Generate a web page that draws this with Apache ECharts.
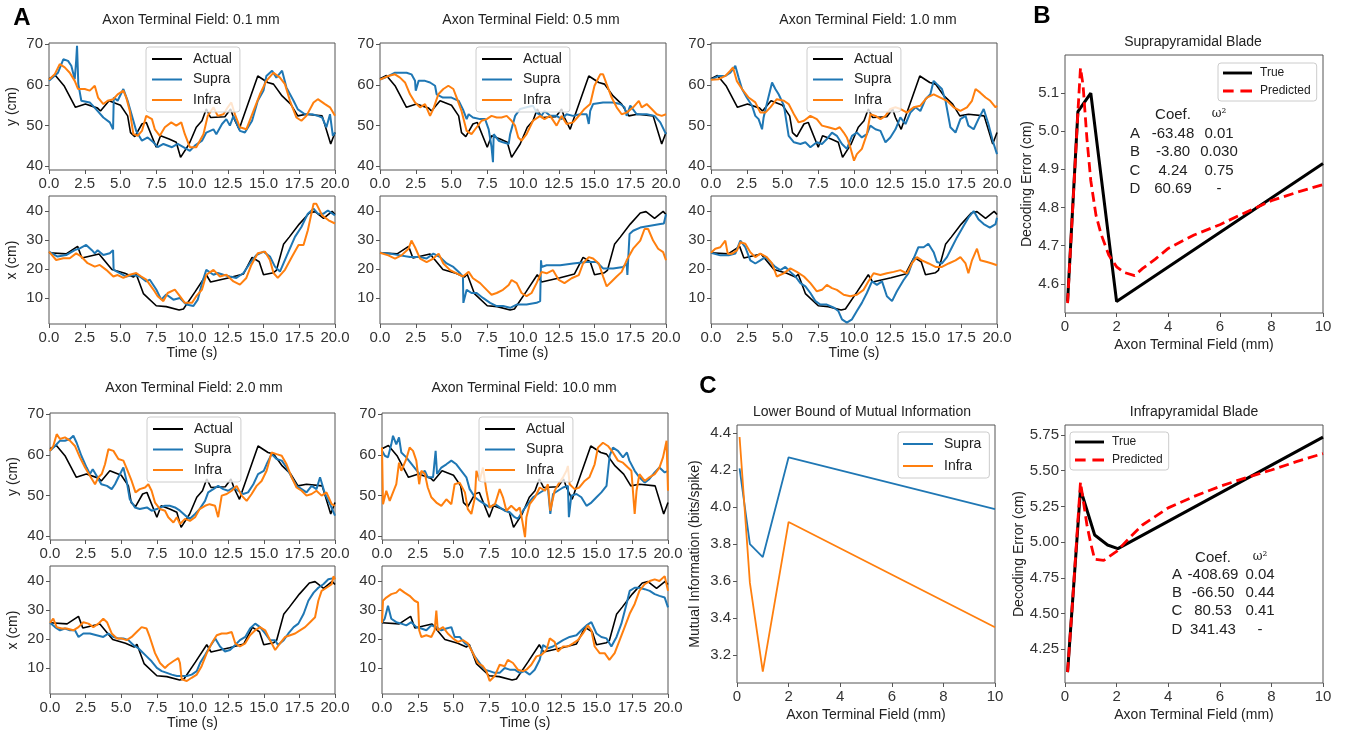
<!DOCTYPE html>
<html><head><meta charset="utf-8">
<script src="https://cdn.jsdelivr.net/npm/echarts@6/dist/echarts.min.js"></script>
<style>html,body{margin:0;padding:0;background:#fff}#c{width:1352px;height:737px}</style>
</head><body><div id="c"></div>
<script>
// ---------------- DATA ----------------
const panelTitles = ['Axon Terminal Field: 0.1 mm','Axon Terminal Field: 0.5 mm','Axon Terminal Field: 1.0 mm','Axon Terminal Field: 2.0 mm','Axon Terminal Field: 10.0 mm'];
const yTicks = [40, 50, 60, 70];
const xTicks = [10, 20, 30, 40];

// actual trajectory [time (s), cm]
const actualY = [[0,61.5],[0.45,62.3],[1.05,59.8],[1.85,54.5],[2.55,55.3],[3.4,54.3],[3.6,53.6],[4.2,56.1],[5.0,55.0],[5.5,52.4],[5.7,48.3],[6.0,47.3],[6.5,50.4],[6.8,50.8],[7.5,44.7],[7.8,47.5],[8.4,46.7],[8.9,45.9],[9.2,42.2],[9.8,45.5],[10.3,49.6],[10.7,51.2],[11.0,54.1],[11.3,52.0],[12.3,52.2],[12.7,54.1],[12.9,52.0],[13.3,49.1],[13.5,51.2],[14.6,62.2],[15.3,60.6],[15.7,60.2],[16.3,57.3],[16.9,55.3],[17.4,52.4],[18.0,52.8],[19.1,52.4],[19.7,45.5],[20,48.3]];
const actualX = [[0,25.6],[1.2,25.2],[2.0,27.8],[2.3,23.8],[3.5,25.2],[4.4,19.8],[5.3,18.5],[5.9,17.2],[6.1,18.2],[6.6,11.5],[7.5,7.3],[8.2,7.0],[9.1,5.8],[9.4,6.2],[10.2,12.0],[11.0,18.0],[11.3,15.5],[12.6,17.0],[13.6,18.3],[14.2,24.0],[14.7,22.5],[15.0,18.0],[15.7,18.7],[15.9,19.5],[16.4,28.5],[16.8,31.0],[17.5,35.5],[18.2,39.3],[18.6,39.8],[19.2,37.5],[19.8,39.9],[20,38.8]];

// 0.1 mm
const supraY01 = [[0,61.0],[0.63,63],[1.0,66.3],[1.33,65.9],[1.56,64.7],[1.8,61.4],[1.9,66],[1.96,69.6],[2.05,60.2],[2.26,56.1],[2.85,55.7],[3.3,54],[3.8,52],[4.25,50.8],[4.48,49.1],[4.53,56.9],[4.8,56.1],[5.2,59],[5.5,56.1],[5.9,51.2],[6.1,48.7],[6.5,46.3],[6.9,47.1],[7.3,45.9],[7.6,44.7],[8.0,45.5],[8.6,44.7],[9.0,45.5],[9.4,44.7],[9.85,43.8],[10.2,45.1],[10.7,46.3],[11.0,48.3],[11.5,49.1],[11.7,47.9],[12.1,50.4],[12.4,51.6],[12.65,50],[12.9,52.4],[13.35,48.7],[13.7,48.3],[14.2,51.2],[14.6,56.1],[15.0,58.6],[15.2,62.2],[15.6,63.5],[15.9,61.8],[16.3,63.5],[16.6,59.4],[17.1,56.1],[17.4,54],[17.9,52.8],[18.4,52.8],[18.8,52.4],[19.1,52],[19.4,49.6],[19.65,52.8],[19.85,47.5],[20,48.3]];
const infraY01 = [[0,61.3],[0.4,62.6],[0.75,65.1],[1.1,64.3],[1.45,63],[1.8,61],[2.03,59],[2.5,59],[2.85,58.6],[3.2,59.8],[3.43,56.9],[3.8,55.3],[4.1,56.1],[4.5,56.5],[4.8,57.7],[5.2,58.6],[5.4,56.9],[5.65,53.6],[5.9,47.9],[6.2,47.5],[6.5,48.7],[6.8,52.4],[7.2,51.6],[7.4,49.1],[7.75,47.5],[8.1,49.6],[8.55,50.8],[8.9,50],[9.25,50.8],[9.5,47.9],[9.85,44.7],[10.3,44.7],[10.8,47.9],[11.1,52.4],[11.5,54.5],[11.8,52.4],[12.2,52.8],[12.5,54.5],[12.75,55.7],[13.0,52.8],[13.35,49.6],[13.8,49.1],[14.3,53.6],[14.75,57.7],[15.2,61],[15.7,63],[16.15,61.8],[16.5,60.2],[16.85,56.1],[17.3,52],[17.65,51.2],[18.0,52.4],[18.5,55.7],[18.8,56.5],[19.3,55.3],[19.65,54.5],[20,52.4]];
const supraX01 = [[0,26],[0.6,24.3],[1.2,24.8],[1.8,26.5],[2.15,27.1],[2.6,28.3],[3.0,26.5],[3.2,25.4],[3.4,26.5],[3.8,24.8],[4.25,25.4],[4.48,26.5],[4.52,19.7],[4.95,18.6],[5.4,17.4],[5.9,17.9],[6.35,17.4],[6.8,15.7],[7.05,16.3],[7.5,12.9],[7.85,9.4],[8.2,11.2],[8.7,9.4],[9.15,10],[9.6,7.7],[10.1,7.2],[10.4,9.4],[10.7,15.1],[11.0,19.7],[11.5,18],[11.8,18.6],[12.2,18],[12.65,17.4],[13.1,16.9],[13.6,18.6],[14.05,22],[14.5,24.8],[15.0,26],[15.45,24.3],[15.8,20.8],[16.15,19.1],[16.6,24.3],[17.2,31.1],[17.65,34.5],[18.1,39.1],[18.5,40.8],[18.8,39.1],[19.2,39.1],[19.5,40.2],[20,38.5]];
const infraX01 = [[0,26],[0.5,23.1],[1.0,23.7],[1.45,23.7],[1.9,25.4],[2.25,24.3],[2.7,22],[3.2,20.8],[3.55,21.4],[4.0,19.7],[4.5,17.4],[4.8,17.9],[5.2,16.9],[5.65,18],[6.1,18.6],[6.45,17.4],[6.8,16.3],[7.3,12.9],[7.6,10.6],[8.0,8.9],[8.3,11.7],[8.8,12.9],[9.15,10.6],[9.5,8.3],[10.0,8.3],[10.3,10.6],[10.7,12.9],[11.0,18],[11.5,19.7],[11.95,17.4],[12.4,18],[12.9,15.7],[13.35,14.6],[13.8,16.9],[14.15,21.4],[14.6,25.4],[15.1,26],[15.45,23.1],[15.7,18.6],[16.0,16.9],[16.5,19.7],[17.0,24.3],[17.45,28.3],[17.8,28.3],[18.1,33.4],[18.5,42.5],[18.7,42.5],[19.1,38.5],[19.55,36.8],[20,35.7]];

// 0.5 mm
const supraY05 = [[0,61.3],[0.47,62],[1.05,63],[1.86,63],[2.2,62.6],[2.45,61],[2.5,58.6],[2.7,61],[3.15,61],[3.5,60.6],[3.85,59.8],[3.96,57.7],[4.4,56.9],[5.0,56.9],[5.5,56.1],[5.8,54],[6.06,51.6],[6.2,52.8],[6.5,52],[7.0,51.6],[7.35,51.6],[7.6,49.1],[7.8,44.7],[7.9,41],[7.95,47.9],[8.3,46.3],[8.6,45.9],[9.0,45.5],[9.1,47.9],[9.45,52.4],[9.8,54.1],[10.25,54.5],[10.7,54.9],[10.95,53.2],[11.3,52.4],[11.5,53.6],[11.9,52.4],[12.35,52.4],[12.7,51.6],[13.05,52.8],[13.5,52.4],[14.0,52.8],[14.45,52.8],[14.6,50.4],[14.7,53.6],[14.9,55.3],[15.6,55.7],[16.3,55.7],[16.8,55.3],[17.1,54.5],[17.25,52.4],[17.5,54.9],[17.95,52.8],[18.65,52.8],[19.2,52.4],[19.6,50.8],[20,47.9]];
const infraY05 = [[0,61.3],[0.58,62.2],[1.05,62.6],[1.4,61.8],[1.75,60.6],[2.1,57.7],[2.45,55.7],[2.8,54.5],[3.15,55.3],[3.5,52.4],[3.73,54.1],[4.08,57.7],[4.43,59],[4.78,59.8],[5.13,59],[5.36,56.9],[5.7,53.6],[6.06,48.7],[6.4,47.9],[6.76,49.6],[7.1,51.2],[7.46,51.6],[7.8,52.4],[8.16,52],[8.5,52],[8.86,52.4],[9.2,51.2],[9.44,50],[9.67,47.1],[9.9,46.3],[10.25,47.9],[10.7,51.2],[11.2,52.4],[11.5,51.6],[11.9,52.4],[12.35,50],[12.7,52.4],[13.05,50.4],[13.5,50.8],[14.0,52.8],[14.3,54.1],[14.7,55.3],[15.0,59.8],[15.4,62.6],[15.6,62.6],[15.85,60.2],[16.2,56.9],[16.55,54.5],[16.9,52.8],[17.25,53.2],[17.7,54.5],[18.1,56.1],[18.3,54.5],[18.65,55.3],[19.0,54.1],[19.35,52.8],[19.7,52.4],[20,52.8]];
const supraX05 = [[0,25.6],[0.7,25.3],[1.4,24.7],[2.1,24.1],[2.8,24.1],[3.26,23.6],[3.73,25.3],[4.2,24.1],[4.66,21.9],[5.13,20.7],[5.6,18.5],[5.8,17.4],[5.83,8.3],[6.06,12.8],[6.4,11.7],[6.76,11.7],[7.2,10],[7.7,8.3],[8.16,7.2],[8.6,7.2],[9.1,6.6],[9.56,7.7],[10.25,7.7],[10.95,8.3],[11.2,8.9],[11.26,23],[11.3,20.7],[11.65,21.3],[12.6,21.3],[13.5,21.9],[14.45,22.4],[15.15,22.4],[15.6,20.2],[16.3,20.2],[17.0,20.7],[17.25,21.9],[17.3,17.9],[17.45,32.1],[17.7,33.2],[18.2,34.3],[18.9,34.9],[19.6,35.5],[19.85,35.7],[20,38.9]];
const infraX05 = [[0,25.6],[0.58,24.7],[1.05,23.6],[1.5,24.7],[2.0,27],[2.2,29.8],[2.45,27.5],[2.8,23.6],[3.26,22.4],[3.73,23.6],[4.1,25.3],[4.43,21.9],[4.9,19.6],[5.36,18.5],[5.8,17.4],[6.2,19],[6.5,16.8],[7.0,15.1],[7.46,12.8],[7.8,11.1],[8.16,11.7],[8.6,12.8],[9.0,14.5],[9.2,16.2],[9.56,15.1],[9.9,11.7],[10.25,10.6],[10.6,11.7],[10.95,15.1],[11.3,19],[11.65,18.5],[12.1,19.6],[12.5,16.2],[12.9,15.1],[13.4,16.8],[13.9,17.9],[14.2,21.9],[14.6,24.1],[14.9,23.6],[15.3,21.9],[15.6,17.4],[15.85,14],[16.2,15.7],[16.55,17.4],[16.9,19],[17.25,23],[17.7,27],[18.2,29.8],[18.5,33.8],[18.75,33.8],[19.1,29.8],[19.45,27],[19.8,25.8],[20,23]];

// 1.0 mm
const supraY10 = [[0,61.3],[0.54,62.2],[1.0,62.2],[1.35,63],[1.7,64.7],[1.93,61.8],[2.17,59],[2.5,56.9],[2.87,54.9],[3.1,52.4],[3.33,51.6],[3.57,49.1],[3.68,52],[3.9,55.3],[4.27,60.6],[4.5,59],[4.73,57.7],[5.1,54.9],[5.43,47.5],[5.8,45.9],[6.25,45.5],[6.6,45.9],[6.95,44.7],[7.4,45.9],[7.76,45.5],[8.1,46.7],[8.46,48.3],[8.8,47.5],[9.16,45.5],[9.5,44.3],[9.86,47.5],[10.2,48.3],[10.55,47.1],[10.9,47.9],[11.14,50],[11.5,49.1],[11.85,48.7],[12.2,45.9],[12.54,47.1],[12.9,49.1],[13.24,52],[13.6,50.4],[13.94,53.2],[14.3,54.5],[14.64,53.6],[15.0,56.5],[15.34,57.7],[15.57,61],[15.8,60.2],[16.15,59],[16.4,56.1],[16.74,49.6],[17.1,48.3],[17.44,51.6],[17.8,52.4],[18.0,50],[18.37,49.1],[18.7,51.6],[19.07,54.1],[19.4,50.4],[19.7,46.3],[20,43]];
const infraY10 = [[0,61.3],[0.54,61.4],[1.0,62.2],[1.35,63.5],[1.54,64.3],[1.8,61],[2.17,59],[2.63,56.9],[3.1,55.7],[3.45,53.2],[3.8,53.2],[4.15,54.5],[4.6,56.5],[5.1,56.1],[5.43,55.3],[5.8,52.8],[6.13,50.8],[6.5,51.2],[6.95,52.4],[7.4,51.6],[7.76,50],[8.2,49.6],[8.7,49.1],[9.0,49.6],[9.28,48.3],[9.5,47.1],[9.74,44.7],[10.0,41.4],[10.2,43],[10.55,44.3],[10.9,47.9],[11.14,52.8],[11.5,52.4],[11.85,51.6],[12.2,52.4],[12.54,54.1],[12.9,54.5],[13.24,54.1],[13.7,53.2],[14.17,54.5],[14.64,54.9],[15.1,56.9],[15.57,57.7],[16.04,56.9],[16.5,56.1],[16.97,54.5],[17.44,53.6],[17.9,54.5],[18.25,56.1],[18.5,59],[18.83,58.1],[19.2,56.9],[19.53,56.1],[19.9,54.5],[20,54.9]];
const supraX10 = [[0,25.6],[0.65,24.7],[1.24,24.7],[1.7,25.3],[2.05,29.8],[2.4,27.5],[2.75,23],[3.1,21.9],[3.45,23],[3.8,24.1],[4.15,22.4],[4.5,20.7],[4.85,19.6],[5.2,20.7],[5.55,19],[5.9,17.4],[6.25,15.1],[6.6,14],[6.95,11.7],[7.3,8.9],[7.65,7.7],[8.1,7.7],[8.6,6.6],[8.9,5.5],[9.16,2.6],[9.5,1.5],[9.86,2.6],[10.2,5.5],[10.55,8.3],[10.9,11.7],[11.26,15.7],[11.6,14.5],[11.96,15.7],[12.3,10.6],[12.66,8.9],[13.0,12.3],[13.47,16.2],[13.8,18.5],[14.17,23.6],[14.5,27.5],[14.87,27.5],[15.2,28.7],[15.57,25.8],[15.8,22.4],[16.15,21.9],[16.5,24.1],[16.85,27.5],[17.2,30.9],[17.67,34.9],[18.0,37.7],[18.37,40],[18.7,37.2],[19.07,35.5],[19.5,34.3],[19.9,35.5],[20,37.7]];
const infraX10 = [[0,25.6],[0.3,27],[0.65,27.5],[1.0,29.8],[1.17,25.3],[1.47,25.3],[1.82,26.4],[2.05,29.2],[2.4,28.7],[2.75,25.8],[3.1,24.1],[3.45,25.3],[3.9,24.1],[4.27,21.9],[4.6,17.4],[5.08,18.5],[5.55,20.2],[6.0,19],[6.5,17.4],[6.95,15.1],[7.4,12.3],[7.76,12.8],[8.1,14.5],[8.46,13.4],[8.8,12.8],[9.28,11.1],[9.74,10.6],[10.2,11.1],[10.67,12.8],[11.0,15.7],[11.37,18.5],[11.84,17.9],[12.3,18.5],[12.77,19],[13.24,19.6],[13.7,18.5],[14.05,21.9],[14.4,24.1],[14.75,23],[15.22,21.9],[15.7,20.7],[16.15,20.7],[16.62,21.9],[17.1,23],[17.44,24.1],[17.8,21.9],[18.0,18.5],[18.25,23],[18.6,27],[18.83,23],[19.3,22.4],[19.65,21.9],[20,21.3]];

// 2.0 mm
const supraY20 = [[0,61],[0.35,62.2],[0.7,63.5],[1.05,63.5],[1.4,63.9],[1.64,64.7],[1.87,63],[2.2,59.8],[2.57,56.9],[2.8,55.3],[3.0,56.5],[3.27,54.9],[3.6,52.8],[4.0,52.4],[4.33,51.6],[4.56,52.8],[4.8,54.5],[5.15,56.9],[5.4,53.2],[5.6,49.1],[5.96,47.1],[6.3,46.7],[6.8,47.1],[7.13,46.3],[7.5,46.7],[7.72,47.1],[8.07,47.5],[8.4,47.5],[8.77,47.1],[9.12,46.3],[9.5,45.1],[9.82,44.3],[10.18,45.5],[10.5,46.7],[10.88,48.7],[11.1,50.8],[11.46,51.6],[11.8,52.4],[12.16,51.6],[12.5,51.2],[12.86,52],[13.2,51.2],[13.56,50.4],[13.9,50.8],[14.27,52.8],[14.6,55.3],[15.0,56.1],[15.2,57.7],[15.55,60.2],[15.9,59],[16.26,58.6],[16.6,56.9],[16.96,54.5],[17.3,52.4],[17.66,51.6],[18.0,50.8],[18.36,52.4],[18.7,51.6],[18.95,54.5],[19.3,50.4],[19.65,47.9],[20,45.1]];
const infraY20 = [[0,61],[0.23,62.2],[0.47,65.1],[0.7,63.9],[1.05,64.3],[1.4,63.5],[1.75,62.2],[2.1,59.4],[2.46,56.9],[2.8,54.9],[3.16,52.8],[3.4,54.5],[3.63,55.3],[3.86,57.7],[4.1,61.4],[4.45,61],[4.8,59],[5.15,58.6],[5.4,56.5],[5.73,53.6],[6.0,50.8],[6.3,51.6],[6.67,52],[6.9,52.8],[7.13,51.2],[7.37,48.3],[7.72,46.7],[8.07,46.3],[8.3,44.7],[8.66,43.4],[8.9,44.7],[9.12,43],[9.47,44.3],[9.82,43.8],[10.18,44.7],[10.5,46.7],[10.88,47.5],[11.2,47.9],[11.58,47.5],[11.8,44.7],[12.05,50],[12.4,50.4],[12.75,51.2],[13.1,52.4],[13.45,50],[13.8,48.7],[14.15,50.4],[14.5,52.4],[14.85,53.6],[15.2,56.1],[15.55,60.6],[15.9,60.2],[16.26,59.8],[16.6,57.7],[16.96,54.5],[17.3,52],[17.66,51.2],[18.0,50],[18.36,50.4],[18.7,51.2],[19.06,50],[19.4,50.8],[19.77,47.9],[20,47.5]];
const supraX20 = [[0,25.6],[0.35,24.1],[0.7,23],[1.05,23.6],[1.4,23],[1.75,23],[2.0,20.7],[2.34,21.9],[2.8,21.9],[3.27,21.3],[3.74,20.7],[4.1,21.9],[4.44,20.7],[4.8,20.2],[5.15,20.2],[5.5,19.6],[5.85,17.9],[6.2,16.8],[6.43,15.7],[6.78,14],[7.13,12.3],[7.5,10],[7.84,8.9],[8.2,8.3],[8.54,7.7],[8.9,7.2],[9.24,7.2],[9.6,7.2],[9.94,7.7],[10.3,8.9],[10.53,11.7],[10.88,14.5],[11.23,17.4],[11.6,20.2],[11.93,17.4],[12.28,15.7],[12.63,16.2],[13.0,17.9],[13.33,19.6],[13.7,20.7],[14.04,23.6],[14.4,25.3],[14.74,24.1],[15.1,21.9],[15.44,19.6],[15.8,19.6],[16.0,17.9],[16.4,19.6],[16.73,21.9],[17.1,24.1],[17.43,25.3],[17.8,28.7],[18.13,33.2],[18.5,36],[18.83,37.7],[19.18,38.9],[19.53,40.6],[20,41.1]];
const infraX20 = [[0,25.6],[0.23,27],[0.47,24.1],[0.82,23.6],[1.17,23.6],[1.64,23],[2.0,24.1],[2.34,25.8],[2.7,25.3],[3.04,24.1],[3.4,25.3],[3.74,27],[4.0,25.8],[4.33,21.9],[4.7,20.2],[5.0,20.2],[5.38,19.6],[5.73,20.7],[6.08,22.4],[6.43,24.1],[6.78,23.6],[7.0,20.7],[7.37,15.1],[7.72,11.7],[8.07,10],[8.3,11.1],[8.65,12.3],[9.0,13.4],[9.12,11.7],[9.24,6.1],[9.6,5.5],[9.94,6.6],[10.3,7.7],[10.64,10.6],[11.0,15.1],[11.35,18.5],[11.7,21.3],[12.05,21.9],[12.4,21.9],[12.75,22.4],[13.0,18.5],[13.33,17.4],[13.7,18.5],[14.04,21.3],[14.4,23],[14.74,24.1],[15.1,23],[15.44,19.6],[15.8,16.2],[16.14,18.5],[16.5,20.7],[16.85,21.3],[17.2,21.9],[17.54,23],[17.9,24.1],[18.25,25.8],[18.6,27.5],[18.83,33.2],[19.06,36.6],[19.4,37.7],[19.77,38.9],[19.9,41.7],[20,40.6]];

// 10.0 mm
const supraY100 = [[0,61],[0.2,59.8],[0.42,59.4],[0.65,62.6],[0.77,64.7],[1.0,62.6],[1.19,64.3],[1.35,60.6],[1.7,59.4],[2.17,57.3],[2.63,55.3],[3.0,56.1],[3.2,54.5],[3.57,54.5],[3.75,61],[3.85,55.3],[4.15,56.9],[4.5,57.7],[4.85,58.6],[5.2,57.7],[5.55,56.1],[5.9,54.5],[6.13,51.6],[6.5,49.6],[6.83,48.7],[7.18,47.9],[7.53,47.1],[7.9,47.9],[8.23,47.1],[8.58,46.3],[8.93,45.9],[9.28,44.7],[9.5,44.3],[9.86,46.3],[10.2,47.9],[10.56,49.6],[10.9,50.4],[11.26,51.2],[11.6,52],[11.77,45.5],[11.96,50.4],[12.3,51.2],[12.66,52],[13.0,52.4],[13.07,44.7],[13.24,50],[13.6,50.4],[13.94,49.6],[14.3,47.5],[14.64,48.3],[15.0,49.6],[15.34,50.8],[15.7,52.4],[15.92,59.8],[16.15,61.8],[16.5,61],[16.85,59.4],[17.13,60.6],[17.3,58.6],[17.67,56.1],[18.0,54.5],[18.37,53.2],[18.7,54.1],[19.07,55.7],[19.4,56.9],[19.77,55.7],[20,56.1]];
const infraY100 = [[0,61.8],[0.07,47.9],[0.3,51.2],[0.54,48.7],[0.77,50.8],[1.0,52.8],[1.19,58.1],[1.35,56.1],[1.7,59],[1.93,61.8],[2.17,61],[2.4,58.6],[2.6,52.8],[2.75,56.1],[3.0,55.3],[3.2,52],[3.45,49.6],[3.8,48.3],[4.15,47.5],[4.5,49.1],[4.85,47.9],[5.08,52.8],[5.43,53.2],[5.8,50.8],[6.0,46.7],[6.25,45.5],[6.5,49.6],[6.6,56.1],[6.83,53.6],[7.06,56.9],[7.3,51.2],[7.53,47.1],[7.9,47.9],[8.23,51.6],[8.46,49.6],[8.7,46.3],[9.04,47.5],[9.4,46.3],[9.63,47.1],[9.81,43.8],[10.0,39.8],[10.1,44.7],[10.33,47.9],[10.7,49.6],[11.03,52],[11.4,51.2],[11.6,52.8],[11.77,46.3],[12.07,51.2],[12.4,53.2],[12.66,54.5],[12.9,56.1],[13.0,57.3],[13.12,52.8],[13.47,51.6],[13.8,52],[14.17,53.6],[14.5,54.5],[14.87,57.7],[15.1,61.8],[15.45,63],[15.8,62.2],[16.15,60.6],[16.5,58.6],[16.85,58.1],[17.2,56.9],[17.44,56.1],[17.67,45.5],[17.8,51.2],[18.0,55.3],[18.37,53.6],[18.7,54.5],[19.07,55.3],[19.4,56.9],[19.65,59.4],[19.9,63.5],[20,51.2]];
const supraX100 = [[0,25.6],[0.19,27],[0.42,31.5],[0.65,27],[1.0,25.8],[1.35,25.3],[1.7,24.7],[2.05,25.8],[2.4,24.1],[2.75,23.6],[3.1,23],[3.45,24.7],[3.8,24.1],[4.15,23],[4.5,23.6],[4.85,24.1],[5.08,20.7],[5.43,20.7],[5.8,18.5],[6.13,17.4],[6.48,14],[6.83,11.7],[7.18,9.4],[7.53,8.9],[7.88,8.3],[8.23,8.3],[8.58,10],[8.93,9.4],[9.28,9.4],[9.63,8.3],[9.98,8.9],[10.33,7.7],[10.68,9.4],[11.03,12.8],[11.26,17.9],[11.6,16.8],[11.96,17.4],[12.3,18.5],[12.66,19.6],[13.12,20.7],[13.6,21.3],[13.94,23],[14.3,24.7],[14.64,25.8],[15.0,21.9],[15.34,20.7],[15.7,20.2],[16.04,17.4],[16.4,20.7],[16.74,25.3],[17.1,32.1],[17.32,36.6],[17.67,37.7],[18.0,37.7],[18.37,37.2],[18.72,36.6],[19.07,35.5],[19.4,34.9],[19.77,34.3],[20,30.9]];
const infraX100 = [[0,25.6],[0.07,33.2],[0.3,34.3],[0.65,35.5],[1.0,36],[1.24,37.2],[1.58,36],[1.93,34.9],[2.28,33.2],[2.52,32.6],[2.6,23],[2.75,20.7],[3.1,21.3],[3.45,20.7],[3.68,23],[3.8,29.8],[3.9,23],[4.27,24.1],[4.6,21.9],[4.96,20.2],[5.3,19],[5.66,19.6],[6.0,18.5],[6.36,15.1],[6.7,11.7],[7.06,10.6],[7.3,8.9],[7.53,5.5],[7.88,7.2],[8.23,11.1],[8.58,10.6],[8.8,12.8],[9.16,11.7],[9.5,9.4],[9.86,8.9],[10.1,9.4],[10.44,11.1],[10.8,14],[11.14,14.5],[11.5,16.2],[11.73,20.2],[12.07,19],[12.3,15.7],[12.66,17.4],[13.0,17.4],[13.36,18.5],[13.7,19.6],[14.05,21.9],[14.4,24.7],[14.64,23],[14.87,17.4],[15.22,15.1],[15.57,15.1],[15.9,12.8],[16.27,15.1],[16.62,19.6],[16.97,24.1],[17.32,28.7],[17.67,32.1],[18.0,36.6],[18.37,38.9],[18.72,40],[19.07,40.6],[19.4,40],[19.77,41.7],[20,36.6]];

// B and C
const fieldSizes = [0.1, 0.5, 1.0, 2.0, 10.0];
const miSupra = [4.21, 3.80, 3.73, 4.27, 3.99];
const miInfra = [4.38, 3.59, 3.11, 3.92, 3.35];
const supraTrue = [4.554, 5.051, 5.099, 4.554, 4.915];
const supraPredicted = [[0.1,4.55],[0.3,4.80],[0.5,5.05],[0.6,5.165],[0.7,5.12],[0.85,4.98],[1.0,4.87],[1.2,4.78],[1.4,4.73],[1.7,4.675],[2.0,4.645],[2.3,4.63],[2.7,4.622],[3.0,4.64],[3.5,4.665],[4,4.693],[5,4.728],[6,4.755],[7,4.787],[8,4.818],[9,4.84],[10,4.86]];
const infraTrue = [[0.1,4.09],[0.6,5.37],[1.15,5.05],[1.65,4.98],[2.05,4.955],[10,5.735]];
const infraPredicted = [[0.1,4.09],[0.3,4.6],[0.5,5.15],[0.6,5.42],[0.7,5.3],[0.85,5.12],[1.0,4.99],[1.15,4.88],[1.5,4.872],[2.0,4.935],[2.5,5.03],[3.0,5.12],[4,5.24],[5,5.32],[6,5.39],[7,5.45],[8,5.505],[9,5.565],[10,5.62]];
const bTopTicks = [4.6, 4.7, 4.8, 4.9, 5.0, 5.1];
const bBotTicks = [4.25, 4.5, 4.75, 5.0, 5.25, 5.5, 5.75];
const cTicks = [3.2, 3.4, 3.6, 3.8, 4.0, 4.2, 4.4];
const supraCoefTable = [['A','-63.48','0.01'],['B','-3.80','0.030'],['C','4.24','0.75'],['D','60.69','-']];
const infraCoefTable = [['A','-408.69','0.04'],['B','-66.50','0.44'],['C','80.53','0.41'],['D','341.43','-']];

// ---------------- LAYOUT / STYLE ----------------
const FONT = 'Liberation Sans, Arial, Helvetica, sans-serif';
const C_ACT = '#000000', C_SUP = '#1f77b4', C_INF = '#ff7f0e', C_RED = '#ff0000';
const FRAME = '#555555', TICKC = '#333333';
const trajData = [
  [supraY01, infraY01, supraX01, infraX01],
  [supraY05, infraY05, supraX05, infraX05],
  [supraY10, infraY10, supraX10, infraX10],
  [supraY20, infraY20, supraX20, infraX20],
  [supraY100, infraY100, supraX100, infraX100]
];
const panels = [
  {left:49, width:286, yTop:43, xTop:196, tx:191, ty:20, names:true, lg:[146,47]},
  {left:380, width:286, yTop:43, xTop:196, tx:531, ty:20, names:false, lg:[476,47]},
  {left:711, width:286, yTop:43, xTop:196, tx:868, ty:20, names:false, lg:[807,47]},
  {left:50, width:285, yTop:413, xTop:566, tx:194, ty:388, names:true, lg:[147,417]},
  {left:382, width:286, yTop:413, xTop:566, tx:524, ty:388, names:false, lg:[479,417]}
];
const HY = 127, HX = 128;

const grid = [], xAxis = [], yAxis = [], series = [], legend = [], graphic = [];
const lineIcon = 'path://M0,0H30V2H0Z';
const thickIcon = 'path://M0,0H30V3H0Z';
const dashIcon = 'path://M0,0H11V3H0Z M18,0H30V3H18Z';

function baseX(g, min, max, interval, fmt, name, gap) {
  return {type:'value', gridIndex:g, min, max, interval,
    axisLine:{show:false}, splitLine:{show:false},
    axisTick:{show:true, length:4, lineStyle:{color:FRAME}},
    axisLabel:{formatter:fmt, fontSize:15, color:TICKC, margin:6, fontFamily:FONT, showMinLabel:true, showMaxLabel:true, hideOverlap:false},
    name:name||'', nameLocation:'middle', nameGap:gap||22,
    nameTextStyle:{fontSize:14, color:'#222', fontFamily:FONT}};
}
function baseY(g, min, max, ticks, fmt, name, gap) {
  return {type:'value', gridIndex:g, min, max,
    axisLine:{show:false}, splitLine:{show:false},
    axisTick:{show:true, length:4, lineStyle:{color:FRAME}, customValues:ticks},
    axisLabel:{customValues:ticks, formatter:fmt, fontSize:15, color:TICKC, margin:6, fontFamily:FONT},
    name:name||'', nameLocation:'middle', nameRotate:90, nameGap:gap||30,
    nameTextStyle:{fontSize:14, color:'#222', fontFamily:FONT}};
}
function addGrid(left, top, width, height) {
  grid.push({left, top, width, height, show:true, borderColor:FRAME, borderWidth:1, backgroundColor:'transparent'});
  return grid.length - 1;
}
function addLine(g, name, data, color, width, extra) {
  series.push(Object.assign({type:'line', name, data, xAxisIndex:g, yAxisIndex:g,
    symbol:'none', showSymbol:false, silent:true, animation:false, color,
    lineStyle:{color, width}, itemStyle:{color}}, extra||{}));
}
function addText(x, y, text, size, opts) {
  graphic.push({type:'text', x, y, silent:true, style:Object.assign({text, fill:'#222', font:size+'px '+FONT, align:'center', verticalAlign:'middle'}, opts||{})});
}
const legendBox = {backgroundColor:'rgba(255,255,255,0.8)', borderColor:'#cccccc', borderWidth:1, borderRadius:3, selectedMode:false, orient:'vertical'};

panels.forEach((p, i) => {
  const [sy, iy, sx, ix] = trajData[i];
  const gY = addGrid(p.left, p.yTop, p.width, HY);
  xAxis.push(baseX(gY, 0, 20, 2.5, v => v.toFixed(1)));
  yAxis.push(baseY(gY, 39.1, 70.3, yTicks, v => String(v), p.names ? 'y (cm)' : '', 30));
  addLine(gY, 'Actual', actualY, C_ACT, 1.6);
  addLine(gY, 'Supra', sy, C_SUP, 2);
  addLine(gY, 'Infra', iy, C_INF, 2);
  const gX = addGrid(p.left, p.xTop, p.width, HX);
  xAxis.push(baseX(gX, 0, 20, 2.5, v => v.toFixed(1), 'Time (s)', 22));
  yAxis.push(baseY(gX, 1.0, 45.2, xTicks, v => String(v), p.names ? 'x (cm)' : '', 30));
  addLine(gX, 'Actual', actualX, C_ACT, 1.6);
  addLine(gX, 'Supra', sx, C_SUP, 2);
  addLine(gX, 'Infra', ix, C_INF, 2);
  legend.push(Object.assign({}, legendBox, {left:p.lg[0], top:p.lg[1], padding:[5,8,5,6], itemWidth:30, itemHeight:14, itemGap:6.5,
    textStyle:{fontSize:14, color:'#222', fontFamily:FONT, padding:[0,0,0,6]},
    data:[{name:'Actual', icon:lineIcon},{name:'Supra', icon:lineIcon},{name:'Infra', icon:lineIcon}]}));
  addText(p.tx, p.ty, panelTitles[i], 14);
});

// B top
const gB1 = addGrid(1065, 55, 258, 258);
xAxis.push(baseX(gB1, 0, 10, 2, v => String(v), 'Axon Terminal Field (mm)', 25));
yAxis.push(baseY(gB1, 4.524, 5.199, bTopTicks, v => v.toFixed(1), 'Decoding Error (cm)', 31));
addLine(gB1, 'True', fieldSizes.map((f, k) => [f, supraTrue[k]]), C_ACT, 3);
addLine(gB1, 'Predicted', supraPredicted, C_RED, 2.8, {lineStyle:{color:C_RED, width:2.8, type:[10,5]}});
legend.push(Object.assign({}, legendBox, {left:1218, top:63, padding:[4,6,4,5], itemWidth:29, itemHeight:12, itemGap:6,
  textStyle:{fontSize:12, color:'#222', fontFamily:FONT, padding:[0,0,0,3]},
  data:[{name:'True', icon:thickIcon},{name:'Predicted', icon:dashIcon}]}));
addText(1193, 42, 'Suprapyramidal Blade', 14);

// B bottom
const gB2 = addGrid(1065, 425, 258, 258);
xAxis.push(baseX(gB2, 0, 10, 2, v => String(v), 'Axon Terminal Field (mm)', 25));
yAxis.push(baseY(gB2, 4.014, 5.82, bBotTicks, v => v.toFixed(2), 'Decoding Error (cm)', 38));
addLine(gB2, 'True', infraTrue, C_ACT, 3);
addLine(gB2, 'Predicted', infraPredicted, C_RED, 2.8, {lineStyle:{color:C_RED, width:2.8, type:[10,5]}});
legend.push(Object.assign({}, legendBox, {left:1070, top:432, padding:[4,6,4,5], itemWidth:29, itemHeight:12, itemGap:6,
  textStyle:{fontSize:12, color:'#222', fontFamily:FONT, padding:[0,0,0,3]},
  data:[{name:'True', icon:thickIcon},{name:'Predicted', icon:dashIcon}]}));
addText(1194, 412, 'Infrapyramidal Blade', 14);

// C
const gC = addGrid(737, 425, 258, 258);
xAxis.push(baseX(gC, 0, 10, 2, v => String(v), 'Axon Terminal Field (mm)', 25));
yAxis.push(baseY(gC, 3.048, 4.445, cTicks, v => v.toFixed(1), 'Mutual Information (bits/spike)', 35));
addLine(gC, 'Supra', fieldSizes.map((f, k) => [f, miSupra[k]]), C_SUP, 1.8);
addLine(gC, 'Infra', fieldSizes.map((f, k) => [f, miInfra[k]]), C_INF, 1.8);
legend.push(Object.assign({}, legendBox, {left:898, top:432, padding:[5,8,5,5], itemWidth:30, itemHeight:14, itemGap:8,
  textStyle:{fontSize:14, color:'#222', fontFamily:FONT, padding:[0,0,0,6]},
  data:[{name:'Supra', icon:lineIcon},{name:'Infra', icon:lineIcon}]}));
addText(862, 412, 'Lower Bound of Mutual Information', 14);

// coefficient tables
function table(rows, xL, xC, xW, yH, rowYs) {
  addText(xC, yH, 'Coef.', 15);
  addText(xW, yH - 1, 'ω²', 12, {font:'12px DejaVu Serif, serif'});
  rows.forEach((r, k) => {
    addText(xL, rowYs[k], r[0], 15);
    addText(xC, rowYs[k], r[1], 15);
    addText(xW, rowYs[k], r[2], 15);
  });
}
table(supraCoefTable, 1135, 1173, 1219, 115, [133.5, 152, 170.5, 189]);
table(infraCoefTable, 1177, 1213, 1260, 558, [574.5, 593, 611, 629.5]);

// panel letters
addText(22, 18, 'A', 24, {font:'bold 24px '+FONT, fill:'#000'});
addText(1042, 16, 'B', 24, {font:'bold 24px '+FONT, fill:'#000'});
addText(708, 386, 'C', 24, {font:'bold 24px '+FONT, fill:'#000'});

const chart = echarts.init(document.getElementById('c'), null, {renderer:'canvas'});
chart.setOption({animation:false, backgroundColor:'#ffffff', textStyle:{fontFamily:FONT},
  grid, xAxis, yAxis, series, legend, graphic});
</script></body></html>
